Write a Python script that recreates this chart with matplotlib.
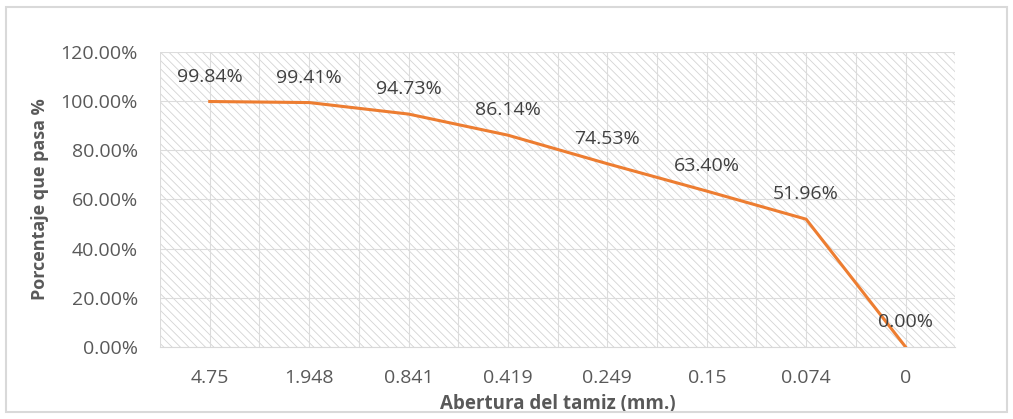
import matplotlib.pyplot as plt
from matplotlib.patches import Rectangle
from matplotlib.ticker import FuncFormatter, MultipleLocator

# Datos de la curva granulométrica
aberturas = ['4.75', '1.948', '0.841', '0.419', '0.249', '0.15', '0.074', '0']
pasa = [99.84, 99.41, 94.73, 86.14, 74.53, 63.40, 51.96, 0.00]
etiquetas = ['99.84%', '99.41%', '94.73%', '86.14%', '74.53%', '63.40%', '51.96%', '0.00%']

plt.rcParams['font.family'] = ['Open Sans', 'DejaVu Sans']
plt.rcParams['hatch.linewidth'] = 0.6

fig = plt.figure(figsize=(10.13, 4.19), dpi=100)
fig.patches.append(Rectangle((0.006, 0.017), 0.988, 0.966, transform=fig.transFigure,
                             fill=False, edgecolor='#d9d9d9', linewidth=1.5))
ax = fig.add_axes([0.158, 0.172, 0.785, 0.704])

x = list(range(len(aberturas)))
ax.set_xlim(-0.5, len(aberturas) - 0.5)
ax.set_ylim(0, 120)

# fondo rayado
ax.add_patch(Rectangle((0, 0), 1, 1, transform=ax.transAxes, facecolor='white',
                       edgecolor='#d4d4d4', hatch='\\\\\\\\', linewidth=0, zorder=0))

ax.plot(x, pasa, color='#ED7D31', linewidth=2.2, zorder=3)
for xi, yi, lab in zip(x, pasa, etiquetas):
    ax.annotate(lab, (xi, yi), xytext=(0, 18), textcoords='offset points',
                ha='center', va='center', fontsize=14, color='#404040', zorder=4)

ax.set_xticks(x)
ax.set_xticklabels(aberturas)
ax.xaxis.set_minor_locator(MultipleLocator(1, offset=0.5))
ax.yaxis.set_major_locator(MultipleLocator(20))
ax.yaxis.set_major_formatter(FuncFormatter(lambda v, p: f'{v:.2f}%'))
ax.grid(which='both', axis='x', color='#dcdcdc', linewidth=0.8, zorder=1)
ax.grid(which='major', axis='y', color='#dcdcdc', linewidth=0.8, zorder=1)
ax.set_axisbelow(True)
ax.tick_params(axis='both', which='both', length=0, labelsize=14, labelcolor='#595959')
ax.tick_params(axis='x', pad=16)
ax.tick_params(axis='y', pad=16)
for s in ['top', 'right', 'left']:
    ax.spines[s].set_visible(False)
ax.spines['bottom'].set_color('#d9d9d9')

ax.set_xlabel('Abertura del tamiz (mm.)', fontsize=13.5, fontweight='bold', color='#595959', labelpad=5)
ax.set_ylabel('Porcentaje que pasa %', fontsize=13, fontweight='bold', color='#595959', labelpad=8)

plt.savefig('out.png', dpi=100)
